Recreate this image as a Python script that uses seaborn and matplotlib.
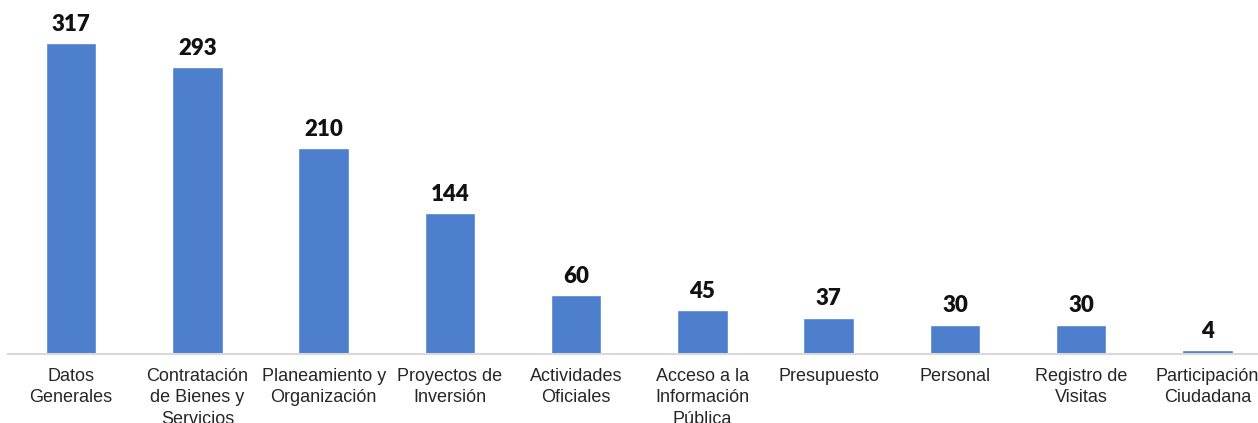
import matplotlib
matplotlib.use("Agg")
import matplotlib.pyplot as plt
import seaborn as sns
import pandas as pd

categories = ["Datos\nGenerales", "Contratación\nde Bienes y\nServicios", "Planeamiento y\nOrganización",
              "Proyectos de\nInversión", "Actividades\nOficiales", "Acceso a la\nInformación\nPública",
              "Presupuesto", "Personal", "Registro de\nVisitas", "Participación\nCiudadana"]
values = [317, 293, 210, 144, 60, 45, 37, 30, 30, 4]

sns.set_theme(style="white")
plt.rcParams['font.family'] = ['Liberation Sans', 'DejaVu Sans']

df = pd.DataFrame({"cat": categories, "val": values})
fig = plt.figure(figsize=(12.58, 4.23), dpi=100)
ax = fig.add_axes([8/1258, 69/423, 1250/1258, 343/423])
sns.barplot(data=df, x="cat", y="val", color="#4E7FCD", saturation=1, width=0.4, ax=ax)
ax.set_xlim(-0.5, 9.4)
ax.set_ylim(0, 350)
ax.set_xlabel("")
ax.set_ylabel("")
ax.set_yticks([])
for s in ["top", "right", "left"]:
    ax.spines[s].set_visible(False)
ax.spines["bottom"].set_color("#d9d9d9")
ax.spines["bottom"].set_linewidth(1.5)
ax.tick_params(axis="x", length=0, pad=10, labelsize=13, labelcolor="#262626")
for lbl in ax.get_xticklabels():
    lbl.set_linespacing(1.35)
    lbl.set_verticalalignment("top")
for c in ax.containers:
    ax.bar_label(c, fmt="%d", padding=6, fontsize=16, fontweight="heavy", family="Lato", color="#111111")
fig.savefig("out.png", dpi=100)
